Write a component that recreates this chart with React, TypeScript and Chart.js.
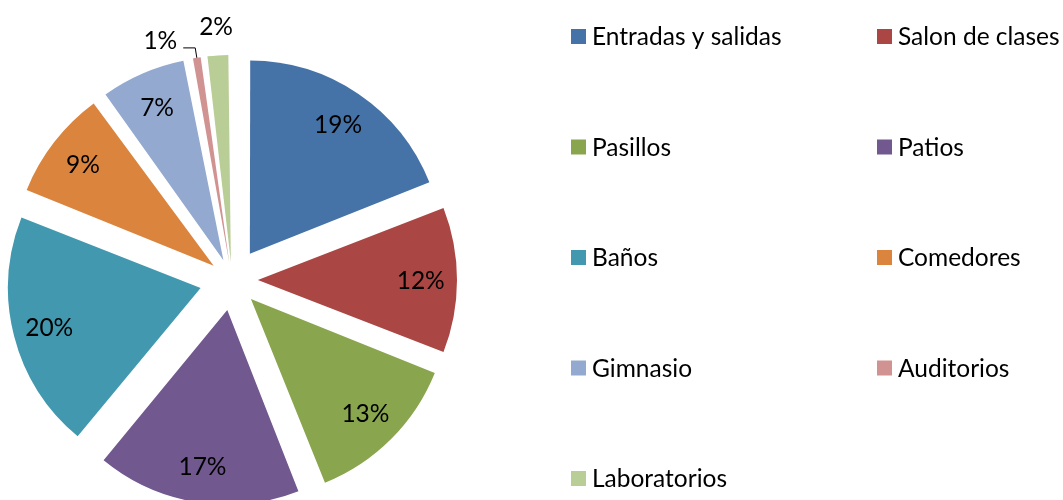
import React, { useEffect, useRef } from "react";
import { Chart, registerables } from "chart.js";

Chart.register(...registerables);

// ---- data ----
const categories = [
  "Entradas y salidas",
  "Salon de clases",
  "Pasillos",
  "Patios",
  "Baños",
  "Comedores",
  "Gimnasio",
  "Auditorios",
  "Laboratorios",
];
const percentages = [19, 12, 13, 17, 20, 9, 7, 1, 2];
const sliceColors = [
  "#4572A7",
  "#AA4643",
  "#89A54E",
  "#71588F",
  "#4198AF",
  "#DB843D",
  "#93A9CF",
  "#D19392",
  "#B9CD96",
];

// ---- style ----
const FONT_FAMILY = "Lato, 'Open Sans', sans-serif";
const FONT_SIZE = 24.5;
const CAP_RATIO = 0.72;
const PIE_RADIUS = 191;
const EXPLODE = 34;

// Chart.js translates an arc by offset/4 * (1 + fix); invert so every slice
// moves EXPLODE pixels outward.
function explodeOffset(c: any) {
  const data: number[] = c.dataset.data;
  const total = data.reduce((a, b) => a + b, 0);
  const circ = (data[c.dataIndex] / total) * Math.PI * 2;
  const fix = 1 - Math.sin(Math.min(Math.PI, circ));
  return (4 * EXPLODE) / (1 + fix);
}

const pieLabelsPlugin = {
  id: "pieLabels",
  afterDatasetsDraw(chart: any) {
    const ctx = chart.ctx as CanvasRenderingContext2D;
    const meta = chart.getDatasetMeta(0);
    const ds = chart.data.datasets[0] as any;
    const values: number[] = ds.data;
    const total = values.reduce((a, b) => a + b, 0);
    const offset = EXPLODE;
    ctx.save();
    ctx.font = `${FONT_SIZE}px ${FONT_FAMILY}`;
    ctx.fillStyle = "#000";
    ctx.strokeStyle = "#000";
    ctx.lineWidth = 1;
    ctx.textAlign = "center";
    ctx.textBaseline = "alphabetic";
    const cap = FONT_SIZE * CAP_RATIO;
    const placed: { l: number; r: number; t: number; b: number }[] = [];
    const order = meta.data.map((_: any, i: number) => i).reverse();
    for (const i of order) {
      const arc = meta.data[i];
      const p = arc.getProps(["x", "y", "startAngle", "endAngle", "outerRadius"], true);
      const mid = (p.startAngle + p.endAngle) / 2;
      const dx = Math.cos(mid);
      const dy = Math.sin(mid);
      const r = p.outerRadius;
      const frac = values[i] / total;
      const text = `${Math.round(frac * 100)}%`;
      const w = ctx.measureText(text).width;
      if (frac >= 0.03) {
        const d = offset + r * 0.81;
        const cx = p.x + dx * d;
        const cy = p.y + dy * d;
        ctx.fillText(text, cx, cy + cap / 2);
        continue;
      }
      // outside label
      const d = offset + r + 29;
      let cx = p.x + dx * d;
      let cy = p.y + dy * d;
      let box = { l: cx - w / 2, r: cx + w / 2, t: cy - cap / 2, b: cy + cap / 2 };
      const hits = placed.some(
        (o) => box.l < o.r && box.r > o.l && box.t < o.b && box.b > o.t
      );
      if (hits) {
        const ex = p.x + dx * (offset + r);
        const ey = p.y + dy * (offset + r);
        const bx = p.x + dx * (offset + r + 10);
        const by = p.y + dy * (offset + r + 10);
        ctx.beginPath();
        ctx.moveTo(ex, ey);
        ctx.lineTo(bx, by);
        ctx.lineTo(bx - 12, by);
        ctx.stroke();
        cx = bx - 18 - w / 2;
        cy = by - 8;
        box = { l: cx - w / 2, r: cx + w / 2, t: cy - cap / 2, b: cy + cap / 2 };
      }
      placed.push(box);
      ctx.fillText(text, cx, cy + cap / 2);
    }
    ctx.restore();
  },
};

const legendPlugin = {
  id: "gridLegend",
  afterDraw(chart: any) {
    const ctx = chart.ctx as CanvasRenderingContext2D;
    const labels: string[] = chart.data.labels;
    const colors: string[] = (chart.data.datasets[0] as any).backgroundColor;
    const colX = [571, 877];
    const rowY0 = 36.5;
    const rowStep = 110.5;
    const box = 15;
    const cap = FONT_SIZE * CAP_RATIO;
    ctx.save();
    ctx.font = `${FONT_SIZE}px ${FONT_FAMILY}`;
    ctx.textAlign = "left";
    ctx.textBaseline = "alphabetic";
    labels.forEach((lab, i) => {
      const x = colX[i % 2];
      const yc = rowY0 + Math.floor(i / 2) * rowStep;
      ctx.fillStyle = colors[i];
      ctx.fillRect(x, yc - box / 2, box, box);
      ctx.fillStyle = "#000";
      ctx.fillText(lab, x + 21, yc + cap / 2);
    });
    ctx.restore();
  },
};

export default function App() {
  const ref = useRef<HTMLCanvasElement | null>(null);
  useEffect(() => {
    let chart: Chart | null = null;
    let cancelled = false;
    const make = () => {
      if (cancelled || !ref.current) return;
      chart = new Chart(ref.current, {
        type: "pie",
        data: {
          labels: categories,
          datasets: [
            {
              data: percentages,
              backgroundColor: sliceColors,
              borderWidth: 0,
              offset: explodeOffset,
              clip: false,
            } as any,
          ],
        },
        options: {
          animation: false,
          responsive: false,
          devicePixelRatio: 1,
          radius: PIE_RADIUS,
          layout: { padding: { left: 0, top: 60, right: 599, bottom: 0 } },
          plugins: {
            legend: { display: false },
            tooltip: { enabled: false },
          },
        } as any,
        plugins: [pieLabelsPlugin, legendPlugin],
      });
    };
    const fonts = (document as any).fonts;
    if (fonts && fonts.load) {
      fonts.load(`${FONT_SIZE}px Lato`).then(make, make);
    } else {
      make();
    }
    return () => {
      cancelled = true;
      if (chart) chart.destroy();
    };
  }, []);
  return (
    <div style={{ position: "absolute", left: 0, top: 0, width: 1063, height: 500, background: "#fff" }}>
      <canvas ref={ref} width={1063} height={500} style={{ display: "block" }} />
    </div>
  );
}
